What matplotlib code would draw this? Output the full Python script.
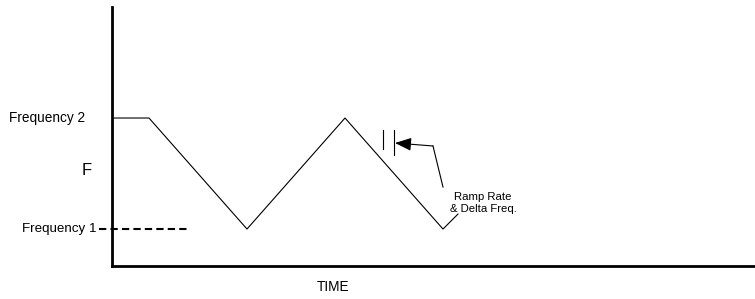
import matplotlib
matplotlib.use('Agg')
import matplotlib.pyplot as plt

plt.rcParams['font.family'] = ['Liberation Sans', 'DejaVu Sans']

# Frequency profile (time in arbitrary units, F1 = 1, F2 = 2)
time = [0, 3.7, 13.5, 23.3, 33.1, 34.6]
freq = [2, 2, 1, 2, 1, 1.135]

freq_labels = ['Frequency 1', 'Frequency 2']
freq_levels = [1, 2]

# ramp rate / delta freq marker
marker_x = [27.1, 28.2]
marker_top = [1.892, 1.892]
marker_bot = [1.721, 1.667]

fig = plt.figure(figsize=(7.55, 2.99), dpi=100)
ax = fig.add_axes([112 / 755, 33 / 299, 643 / 755, 259 / 299])
ax.set_xlim(0, 64.3)
ax.set_ylim(0.667, 3.0)

ax.plot(time, freq, color='black', lw=0.8)

# frequency 1 dashed reference
ax.plot([-1.3, 7.5], [1, 1], color='black', lw=1.5, ls=(0, (3.5, 2)), clip_on=False)

ax.text(-1.6, freq_levels[0], freq_labels[0], ha='right', va='center', fontsize=9.6)
ax.text(-2.7, freq_levels[1], freq_labels[1], ha='right', va='center', fontsize=9.8)
ax.text(-2.5, 1.53, 'F', ha='center', va='center', fontsize=12)

for x, top, bot in zip(marker_x, marker_top, marker_bot):
    ax.plot([x, x], [bot, top], color='black', lw=0.8)

# arrow to marker
ax.plot([33.1, 32.1], [1.378, 1.748], color='black', lw=0.8)
ax.annotate('', xy=(28.3, 1.775), xytext=(32.1, 1.748),
            arrowprops=dict(arrowstyle='-|>,head_length=1.0,head_width=0.4',
                            color='black', lw=0.8, shrinkA=0, shrinkB=0))
ax.text(37.1, 1.234, 'Ramp Rate\n& Delta Freq.', ha='center', va='center',
        fontsize=8.2, multialignment='center', linespacing=1.35)

fig.text(333 / 755, 1 - 287 / 299, 'TIME', ha='center', va='center', fontsize=9.8)

ax.spines['top'].set_visible(False)
ax.spines['right'].set_visible(False)
ax.spines['left'].set_linewidth(2)
ax.spines['bottom'].set_linewidth(2)
ax.set_xticks([])
ax.set_yticks([])
ax.patch.set_alpha(0)

fig.savefig('out.png', dpi=100)
